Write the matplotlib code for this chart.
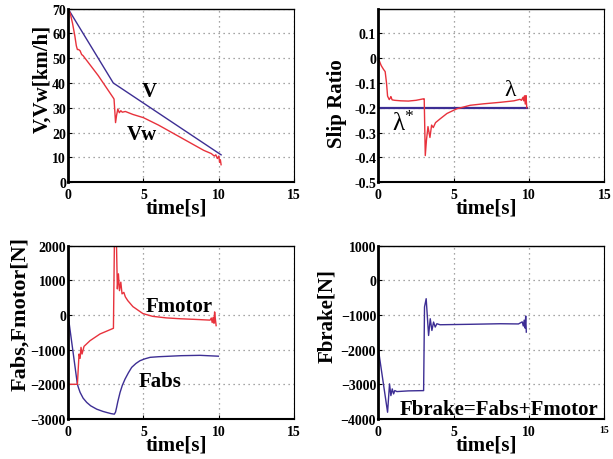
import matplotlib.pyplot as plt
import numpy as np

plt.rcParams['font.family'] = ['Liberation Serif', 'DejaVu Serif']
plt.rcParams['font.weight'] = 'bold'
plt.rcParams['mathtext.fontset'] = 'custom'
plt.rcParams['mathtext.rm'] = 'Liberation Serif'

RED = '#e8323c'
BLUE = '#3d2e94'

# vehicle / wheel speed [km/h]
t_v = [0, 3.0, 10.15]
v = [70, 40, 11]

t_vw = [0, 0.15, 0.3, 0.45, 0.55, 0.62, 0.7, 0.8, 0.9, 1.0, 1.5, 2.0, 2.5, 3.0,
        3.05, 3.15, 3.22, 3.3, 3.4, 3.5, 3.6, 3.8, 4.3, 5.0, 6.0, 7.0, 8.0, 9.0,
        9.5, 9.7, 9.8, 9.9, 10.0, 10.05, 10.1, 10.15]
vw = [70, 68, 64, 59, 55, 53.5, 53.5, 53, 51.5, 51, 47, 43, 38.5, 34,
      33.5, 24, 27, 29.5, 28, 28.8, 28.2, 28.5, 27.3, 26, 23, 19.6, 16.2, 12.8,
      11.5, 10.5, 11, 9.5, 10.5, 8, 9, 7]

# slip ratio
t_ref = [0, 9.87]
lam_ref = [-0.2, -0.2]

t_lam = [0, 0.1, 0.2, 0.35, 0.46, 0.55, 0.62, 0.73, 0.8, 0.84, 0.92, 1.1, 1.5,
         2.0, 2.5, 3.0, 3.05, 3.12, 3.2, 3.3, 3.43, 3.54, 3.65, 3.8, 4.1, 4.56,
         5.22, 6.1, 7.0, 8.1, 9.0, 9.4, 9.5, 9.6, 9.65, 9.7, 9.75, 9.8, 9.85]
lam = [0, -0.015, -0.03, -0.045, -0.054, -0.1, -0.153, -0.167, -0.16, -0.155,
       -0.168, -0.17, -0.172, -0.173, -0.17, -0.164, -0.164, -0.393, -0.33,
       -0.276, -0.32, -0.27, -0.28, -0.26, -0.245, -0.223, -0.204, -0.19,
       -0.184, -0.178, -0.172, -0.166, -0.17, -0.158, -0.172, -0.152, -0.185,
       -0.151, -0.2]

# motor force / ABS force [N]
t_fm = [0, 0.001, 0.62, 0.73, 0.8, 0.86, 0.93, 1.06, 1.46, 2.12, 3.01, 3.08,
        3.2, 3.27, 3.34, 3.41, 3.5, 3.58, 3.7, 3.8, 3.96, 4.3, 4.96, 5.6, 6.5,
        7.43, 8.5, 9.42, 9.5, 9.56, 9.62, 9.68, 9.72, 9.77, 9.82]
fmotor = [0, -2000, -2000, -1127, -1252, -935, -1127, -906, -742, -549, -385,
          2300, 2300, 750, 1185, 700, 945, 607, 650, 520, 413, 240, 40, -40,
          -85, -110, -130, -150, -90, -220, -70, -240, 87, -120, -309]

t_fa = [0, 0.62, 0.7, 0.8, 1.0, 1.24, 1.5, 1.9, 2.3, 2.56, 2.85, 3.07, 3.15,
        3.22, 3.3, 3.45, 3.6, 3.78, 4.0, 4.22, 4.5, 4.77, 5.1, 5.44, 6.0, 6.5,
        7.5, 8.75, 9.97]
fabs = [0, -2000, -2110, -2234, -2400, -2523, -2620, -2717, -2780, -2812,
        -2845, -2861, -2800, -2668, -2500, -2234, -2030, -1850, -1670, -1512,
        -1400, -1320, -1265, -1223, -1205, -1195, -1175, -1165, -1190]

# total brake force [N]
t_fb = [0, 0.02, 0.62, 0.75, 0.84, 0.93, 1.02, 1.1, 1.24, 2.0, 3.01, 3.07,
        3.18, 3.34, 3.45, 3.56, 3.67, 3.78, 3.89, 4.1, 6.1, 8.1, 9.3, 9.55,
        9.62, 9.68, 9.74, 9.78, 9.82]
fbrake = [0, -2025, -3806, -2988, -3326, -3133, -3277, -3180, -3210, -3190,
          -3182, -770, -532, -1592, -1110, -1448, -1206, -1350, -1254, -1283,
          -1270, -1254, -1260, -1200, -1320, -1150, -1380, -1030, -1495]

fig = plt.figure(figsize=(6.13, 4.60), dpi=100)
w, h = 0.369, 0.377
ax1 = fig.add_axes([0.111, 0.602, w, h])
ax2 = fig.add_axes([0.617, 0.602, w, h])
ax3 = fig.add_axes([0.111, 0.087, w, h])
ax4 = fig.add_axes([0.617, 0.087, w, h])


def style(ax, ylabel, ylab_xy, ylab_size=15):
    ax.set_xlim(0, 15)
    ax.set_xticks([0, 5, 10, 15])
    ax.grid(True, linestyle=(0, (1, 3)), color='#888888', linewidth=0.9)
    ax.tick_params(direction='in', length=3, labelsize=10, pad=1.5)
    ax.tick_params(axis='x', pad=4)
    for lbl in ax.get_xticklabels() + ax.get_yticklabels():
        lbl.set_fontweight('bold')
    ax.spines['left'].set_linewidth(2.0)
    ax.spines['bottom'].set_linewidth(1.5)
    ax.spines['top'].set_linewidth(1.0)
    ax.spines['right'].set_linewidth(0.8)
    ax.set_xlabel('time[s]', fontsize=15, fontweight='bold')
    ax.xaxis.set_label_coords(0.48, -0.145)
    ax.xaxis.label.set_va('center')
    ax.set_ylabel(ylabel, fontsize=ylab_size, fontweight='bold')
    ax.yaxis.set_label_coords(*ylab_xy)
    ax.yaxis.label.set_va('center')


# speeds
ax1.plot(t_v, v, color=BLUE, lw=1.0)
ax1.plot(t_vw, vw, color=RED, lw=1.0)
ax1.set_ylim(0, 70)
ax1.set_yticks(np.arange(0, 71, 10))
style(ax1, 'V,Vw[km/h]', (-0.115, 0.60))
ax1.text(5.37, 36.7, 'V', fontsize=15, fontweight='bold', ha='center', va='center')
ax1.text(4.9, 19.3, 'Vw', fontsize=15, fontweight='bold', ha='center', va='center')

# slip ratio
ax2.plot(t_ref, lam_ref, color=BLUE, lw=1.6)
ax2.plot(t_lam, lam, color=RED, lw=1.0)
ax2.set_ylim(-0.5, 0.2)
ax2.set_yticks([-0.5, -0.4, -0.3, -0.2, -0.1, 0, 0.1])
ax2.set_yticklabels(['-0.5', '-0.4', '-0.3', '-0.2', '-0.1', '0', '0.1'])
style(ax2, 'Slip Ratio', (-0.183, 0.46))
ax2.text(8.72, -0.127, 'λ', fontsize=17, fontweight='normal', ha='center', va='center')
ax2.text(1.68, -0.26, r'$\mathregular{\lambda^{*}}$', fontsize=18,
         fontweight='normal', ha='center', va='center')

# ABS and motor forces
ax3.plot(t_fa, fabs, color=BLUE, lw=1.0)
ax3.plot(t_fm, fmotor, color=RED, lw=1.0)
ax3.set_ylim(-3000, 2000)
ax3.set_yticks(np.arange(-3000, 2001, 1000))
style(ax3, 'Fabs,Fmotor[N]', (-0.212, 0.61), ylab_size=16)
ax3.text(7.39, 250, 'Fmotor', fontsize=15, fontweight='bold', ha='center', va='center')
ax3.text(6.1, -1900, 'Fabs', fontsize=15, fontweight='bold', ha='center', va='center')

# brake force
ax4.plot(t_fb, fbrake, color=BLUE, lw=1.0)
ax4.set_ylim(-4000, 1000)
ax4.set_yticks(np.arange(-4000, 1001, 1000))
style(ax4, 'Fbrake[N]', (-0.226, 0.60))
ax4.get_xticklabels()[-1].set_fontsize(7)
ax4.text(7.99, -3711, 'Fbrake=Fabs+Fmotor', fontsize=15, fontweight='bold',
         ha='center', va='center')

fig.savefig('out.png', dpi=100)
